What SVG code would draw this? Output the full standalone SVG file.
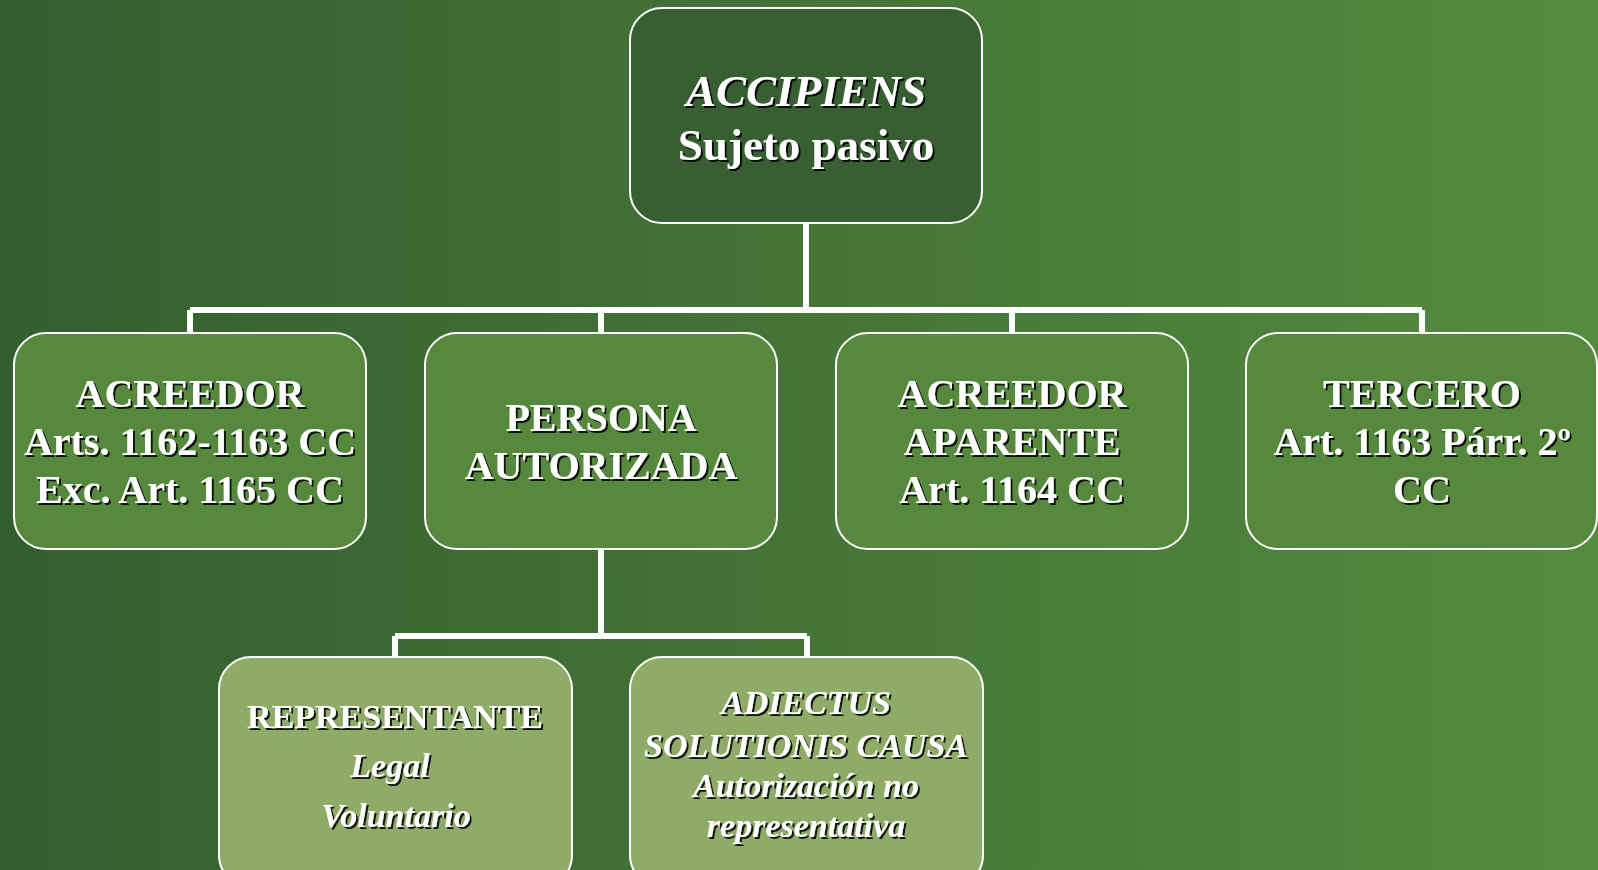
<svg xmlns="http://www.w3.org/2000/svg" width="1598" height="870" viewBox="0 0 1598 870">
<defs>
<linearGradient id="bg" x1="0" y1="0" x2="1" y2="0">
<stop offset="0" stop-color="#335e2f"/>
<stop offset="1" stop-color="#558b3e"/>
</linearGradient>
<filter id="sh" x="-10%" y="-20%" width="120%" height="140%">
<feDropShadow dx="2" dy="2" stdDeviation="0.3" flood-color="#000" flood-opacity="0.85"/>
</filter>
</defs>
<style>
.box{stroke:#fff;stroke-width:2}
.l0{fill:#375f32}
.l1{fill:#56883d}
.l2{fill:#8fab68}
text{font-family:"Liberation Serif","Times New Roman",serif;font-weight:bold;fill:#fff;text-anchor:middle;filter:url(#sh)}
.it{font-style:italic}
.t0{font-size:45px}
.t1{font-size:40px}
.t2{font-size:34px}
.con{stroke:#fff;stroke-width:6;fill:none}
</style>
<rect width="1598" height="870" fill="url(#bg)"/>
<g id="connectors">
<path class="con" d="M806 223 V310 M190 310 H1422 M190 310 V333 M601 310 V333 M1012 310 V333 M1422 310 V333"/>
<path class="con" d="M601 549 V636 M395 636 H807 M395 636 V657 M807 636 V657"/>
</g>
<g id="accipiens">
<rect class="box l0" x="630" y="8" width="352" height="215" rx="32"/>
<text class="t0 it" x="806" y="106">ACCIPIENS</text>
<text class="t0" x="806" y="160">Sujeto pasivo</text>
</g>
<g id="acreedor">
<rect class="box l1" x="14" y="333" width="352" height="216" rx="32"/>
<text class="t1" x="190" y="407">ACREEDOR</text>
<text class="t1" x="190" y="455">Arts. 1162-1163 CC</text>
<text class="t1" x="190" y="503">Exc. Art. 1165 CC</text>
</g>
<g id="persona-autorizada">
<rect class="box l1" x="425" y="333" width="352" height="216" rx="32"/>
<text class="t1" x="601" y="431">PERSONA</text>
<text class="t1" x="601" y="479">AUTORIZADA</text>
</g>
<g id="acreedor-aparente">
<rect class="box l1" x="836" y="333" width="352" height="216" rx="32"/>
<text class="t1" x="1012" y="407">ACREEDOR</text>
<text class="t1" x="1012" y="455">APARENTE</text>
<text class="t1" x="1012" y="503">Art. 1164 CC</text>
</g>
<g id="tercero">
<rect class="box l1" x="1246" y="333" width="351" height="216" rx="32"/>
<text class="t1" x="1422" y="407">TERCERO</text>
<text class="t1" x="1422" y="455">Art. 1163 Párr. 2º</text>
<text class="t1" x="1422" y="503">CC</text>
</g>
<g id="representante">
<rect class="box l2" x="219" y="657" width="353" height="230" rx="32"/>
<text class="t2" x="395" y="728">REPRESENTANTE</text>
<text class="t2 it" x="390" y="777">Legal</text>
<text class="t2 it" x="396" y="827">Voluntario</text>
</g>
<g id="adiectus">
<rect class="box l2" x="630" y="657" width="353" height="230" rx="32"/>
<text class="t2 it" x="806" y="714">ADIECTUS</text>
<text class="t2 it" x="806" y="757">SOLUTIONIS CAUSA</text>
<text class="t2 it" x="806" y="797">Autorización no</text>
<text class="t2 it" x="806" y="837">representativa</text>
</g>
</svg>
